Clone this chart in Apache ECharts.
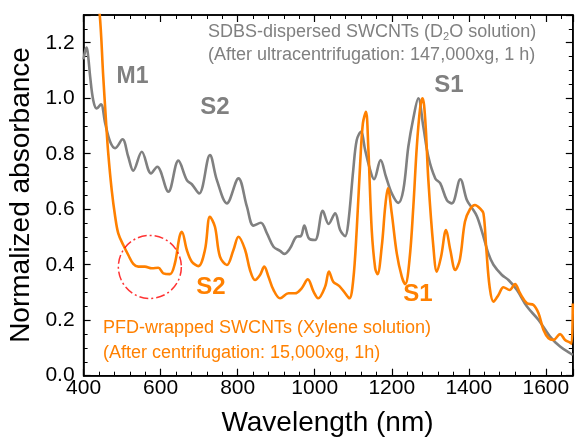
<!DOCTYPE html>
<html>
<head>
<meta charset="utf-8">
<script src="https://cdn.jsdelivr.net/npm/echarts@6/dist/echarts.min.js"></script>
<style>
html,body{margin:0;padding:0;background:#fff;}
#chart{width:575px;height:438px;}
</style>
</head>
<body>
<div id="chart"></div>
<script>
// SDBS-dispersed SWCNTs (grey)
const sdbsWavelength = [400,404,408,412,417,425,434,445,456,469,482,501,516,529,551,575,591,620,646,668,681,700,728,746,772,802,824,841,860,876,893,910,921,936,953,964,973,985,1001,1021,1036,1053,1066,1079,1087,1100,1109,1120,1131,1144,1154,1171,1185,1200,1217,1230,1243,1256,1269,1282,1295,1313,1326,1343,1356,1378,1395,1408,1421,1434,1451,1464,1486,1503,1525,1551,1581,1611,1637,1663,1670];
const sdbsAbs = [1.14,1.17,1.183,1.15,1.078,0.993,0.963,0.978,0.91,0.843,0.82,0.852,0.789,0.739,0.807,0.729,0.753,0.663,0.775,0.705,0.69,0.657,0.795,0.705,0.621,0.711,0.609,0.541,0.551,0.513,0.465,0.45,0.439,0.459,0.501,0.503,0.541,0.495,0.489,0.594,0.547,0.585,0.525,0.503,0.549,0.741,0.849,0.879,0.813,0.741,0.708,0.777,0.717,0.657,0.623,0.669,0.825,0.928,1.0,0.897,0.789,0.711,0.693,0.633,0.621,0.708,0.633,0.605,0.575,0.52,0.44,0.40,0.363,0.345,0.309,0.249,0.201,0.141,0.105,0.081,0.075];

// PFD-wrapped SWCNTs (orange)
const pfdWavelength = [400,420,440,451,458,464,473,482,490,503,516,529,542,559,577,594,607,624,637,649,655,668,681,698,715,728,741,754,772,789,802,819,832,845,858,869,880,893,910,932,949,966,982,997,1009,1027,1037,1048,1064,1079,1090,1100,1109,1118,1125,1133,1139,1148,1157,1163,1174,1183,1190,1200,1213,1226,1235,1246,1256,1265,1274,1280,1287,1295,1308,1317,1328,1341,1352,1365,1377,1390,1403,1416,1429,1438,1445,1454,1464,1477,1490,1506,1520,1533,1551,1568,1581,1594,1607,1620,1637,1650,1663,1667,1670];
const pfdAbs = [1.75,1.5,1.33,1.078,0.921,0.801,0.669,0.573,0.513,0.471,0.435,0.403,0.393,0.393,0.387,0.389,0.369,0.366,0.405,0.501,0.519,0.453,0.411,0.395,0.453,0.573,0.537,0.429,0.399,0.453,0.501,0.455,0.381,0.345,0.363,0.393,0.357,0.309,0.279,0.297,0.297,0.315,0.347,0.303,0.279,0.321,0.375,0.339,0.323,0.297,0.279,0.345,0.525,0.765,0.909,0.951,0.825,0.525,0.387,0.366,0.465,0.609,0.675,0.585,0.441,0.357,0.330,0.417,0.609,0.825,0.969,1.0,0.921,0.705,0.465,0.375,0.429,0.525,0.453,0.381,0.42,0.555,0.600,0.615,0.603,0.585,0.465,0.321,0.267,0.291,0.319,0.309,0.330,0.297,0.261,0.255,0.225,0.165,0.135,0.129,0.150,0.129,0.119,0.115,0.26];

// Highlighted region (dash-dot circle) centre
const highlightPoint = [[572, 0.392]];

const xMin = 400, xMax = 1670, xInterval = 200;
const yMin = 0, yMax = 1.3, yInterval = 0.2;

const FONT = "'Liberation Sans', Arial, sans-serif";
const GREY = '#808080';
const ORANGE = '#ff8000';

const chart = echarts.init(document.getElementById('chart'));

const zip = (xs, ys) => xs.map((x, i) => [x, ys[i]]);

const note = (left, top, text, color, size, bold) => ({
  text: text, left: left, top: top, padding: 0, itemGap: 0,
  textStyle: {color: color, fontFamily: FONT, fontSize: size, fontWeight: bold ? 'bold' : 'normal',
    lineHeight: size}
});

const option = {
  animation: false,
  grid: {left: 83.6, right: 2.2, top: 15, bottom: 62.3, show: true,
    borderColor: '#000', borderWidth: 1.5, backgroundColor: 'rgba(0,0,0,0)'},
  title: [
    {
      text: '{n|SDBS-dispersed SWCNTs (D}{s|2}{n|O solution)}', left: 208, top: 23, padding: 0,
      textStyle: {
        color: GREY, fontFamily: FONT, fontSize: 18, fontWeight: 'normal',
        rich: {
          n: {color: GREY, fontFamily: FONT, fontSize: 18, lineHeight: 18},
          s: {color: GREY, fontFamily: FONT, fontSize: 11, lineHeight: 18, padding: [10, 0, 0, 0]}
        }
      }
    },
    note(208, 46, '(After ultracentrifugation: 147,000xg, 1 h)', GREY, 18, false),
    note(103, 319, 'PFD-wrapped SWCNTs (Xylene solution)', ORANGE, 18, false),
    note(103, 344, '(After centrifugation: 15,000xg, 1h)', ORANGE, 18, false),
    note(116.5, 65.5, 'M1', GREY, 23, true),
    note(200.3, 95, 'S2', GREY, 24, true),
    note(434.3, 73.5, 'S1', GREY, 24, true),
    note(196.3, 275, 'S2', ORANGE, 24, true),
    note(403.3, 282.5, 'S1', ORANGE, 24, true),
    note(221.4, 409, 'Wavelength (nm)', '#000', 28, false)
  ],
  graphic: [{
    type: 'text', x: 21, y: 195, rotation: Math.PI / 2, silent: true,
    style: {text: 'Normalized absorbance', fill: '#000', fontFamily: FONT, fontSize: 28,
      align: 'center', verticalAlign: 'middle'}
  }],
  xAxis: [{
    type: 'value', min: xMin, max: xMax, interval: xInterval, position: 'bottom',
    axisLine: {show: true, onZero: false, lineStyle: {color: '#000', width: 1.5}},
    axisTick: {show: true, inside: true, length: 7, lineStyle: {color: '#000', width: 1.2}},
    minorTick: {show: true, splitNumber: 5, length: 4, lineStyle: {color: '#000'}},
    axisLabel: {fontFamily: FONT, fontSize: 21, color: '#000', margin: 2, showMaxLabel: false,
      formatter: v => String(Math.round(v))},
    splitLine: {show: false}
  }, {
    type: 'value', min: xMin, max: xMax, interval: xInterval, position: 'top',
    axisLine: {show: true, onZero: false, lineStyle: {color: '#000', width: 1.5}},
    axisTick: {show: true, inside: true, length: 7, lineStyle: {color: '#000', width: 1.2}},
    minorTick: {show: true, splitNumber: 5, length: 4, lineStyle: {color: '#000'}},
    axisLabel: {show: false}, splitLine: {show: false}
  }],
  yAxis: [{
    type: 'value', min: yMin, max: yMax, interval: yInterval, position: 'left',
    axisLine: {show: true, onZero: false, lineStyle: {color: '#000', width: 1.5}},
    axisTick: {show: true, inside: true, length: 7, lineStyle: {color: '#000', width: 1.2}},
    minorTick: {show: true, splitNumber: 4, length: 4, lineStyle: {color: '#000'}},
    axisLabel: {fontFamily: FONT, fontSize: 21, color: '#000', margin: 9,
      formatter: v => (Math.abs(v / yInterval - Math.round(v / yInterval)) < 1e-6 ? v.toFixed(1) : '')},
    splitLine: {show: false}
  }, {
    type: 'value', min: yMin, max: yMax, interval: yInterval, position: 'right',
    axisLine: {show: true, onZero: false, lineStyle: {color: '#000', width: 1.5}},
    axisTick: {show: true, inside: true, length: 7, lineStyle: {color: '#000', width: 1.2}},
    minorTick: {show: true, splitNumber: 4, length: 4, lineStyle: {color: '#000'}},
    axisLabel: {show: false}, splitLine: {show: false}
  }],
  series: [{
    name: 'SDBS', type: 'line', xAxisIndex: 0, yAxisIndex: 0,
    data: zip(sdbsWavelength, sdbsAbs), showSymbol: false, smooth: 0.35,
    lineStyle: {color: GREY, width: 2.6}
  }, {
    name: 'PFD', type: 'line', xAxisIndex: 0, yAxisIndex: 0,
    data: zip(pfdWavelength, pfdAbs), showSymbol: false, smooth: 0.35,
    lineStyle: {color: ORANGE, width: 2.6}
  }, {
    name: 'highlight', type: 'scatter', xAxisIndex: 0, yAxisIndex: 0,
    data: highlightPoint, symbol: 'circle', symbolSize: 63, silent: true, z: 5,
    itemStyle: {color: 'rgba(0,0,0,0)', borderColor: '#ff0000', borderWidth: 1.5,
      borderType: [9, 3, 2, 3]}
  }]
};
chart.setOption(option);
</script>
</body>
</html>
